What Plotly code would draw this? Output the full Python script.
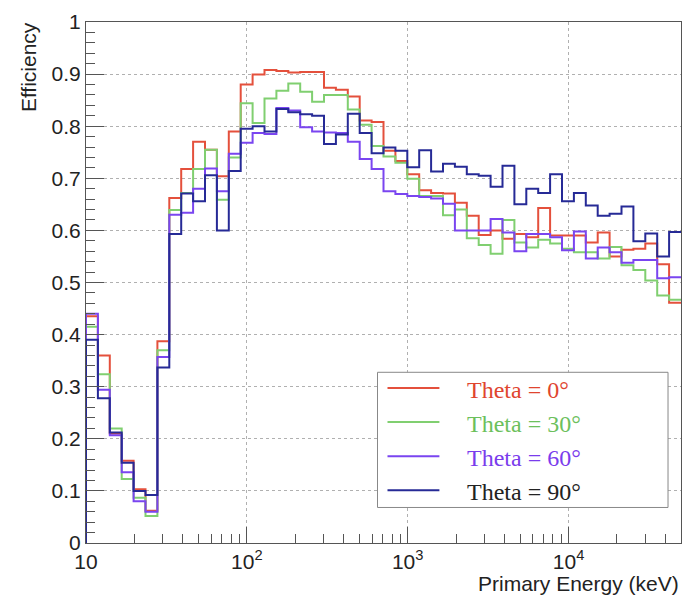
import numpy as np
import plotly.graph_objects as go

# ---------------- data ----------------
# 50 logarithmic bins between 10 keV and 50 MeV
E_MIN, E_MAX, N_BINS = 10.0, 50000.0, 50
bin_edges = list(np.logspace(np.log10(E_MIN), np.log10(E_MAX), N_BINS + 1))

eff_theta0 = [0.435, 0.36, 0.21, 0.158, 0.103, 0.062, 0.387, 0.662, 0.718, 0.77,
              0.755, 0.704, 0.79, 0.88, 0.899, 0.908, 0.906, 0.903, 0.904, 0.904,
              0.874, 0.87, 0.857, 0.811, 0.808, 0.753, 0.733, 0.708, 0.677, 0.672,
              0.671, 0.653, 0.628, 0.591, 0.60, 0.584, 0.593, 0.587, 0.643, 0.59,
              0.59, 0.59, 0.577, 0.596, 0.55, 0.563, 0.565, 0.575, 0.535, 0.461]
eff_theta30 = [0.415, 0.324, 0.22, 0.123, 0.087, 0.052, 0.37, 0.639, 0.672, 0.718,
               0.755, 0.659, 0.74, 0.844, 0.806, 0.853, 0.868, 0.882, 0.866, 0.847,
               0.86, 0.86, 0.832, 0.803, 0.762, 0.742, 0.73, 0.699, 0.666, 0.666,
               0.629, 0.64, 0.585, 0.572, 0.555, 0.62, 0.577, 0.567, 0.582, 0.575,
               0.565, 0.558, 0.558, 0.546, 0.568, 0.533, 0.524, 0.504, 0.475, 0.467]
eff_theta60 = [0.44, 0.294, 0.207, 0.136, 0.08, 0.06, 0.357, 0.63, 0.634, 0.68,
               0.719, 0.675, 0.747, 0.768, 0.787, 0.785, 0.835, 0.83, 0.798, 0.79,
               0.788, 0.787, 0.77, 0.737, 0.718, 0.675, 0.67, 0.666, 0.664, 0.661,
               0.651, 0.60, 0.60, 0.60, 0.622, 0.596, 0.56, 0.593, 0.593, 0.587,
               0.562, 0.598, 0.546, 0.567, 0.558, 0.538, 0.543, 0.543, 0.508, 0.51]
eff_theta90 = [0.39, 0.278, 0.212, 0.154, 0.10, 0.092, 0.337, 0.593, 0.671, 0.656,
               0.706, 0.60, 0.714, 0.795, 0.80, 0.79, 0.833, 0.827, 0.823, 0.82,
               0.766, 0.784, 0.824, 0.787, 0.748, 0.759, 0.753, 0.721, 0.754, 0.713,
               0.728, 0.722, 0.708, 0.705, 0.684, 0.724, 0.65, 0.68, 0.672, 0.708,
               0.656, 0.672, 0.648, 0.628, 0.632, 0.646, 0.579, 0.594, 0.55, 0.597]

series_names = ["Theta = 0°", "Theta = 30°", "Theta = 60°", "Theta = 90°"]
series_values = [eff_theta0, eff_theta30, eff_theta60, eff_theta90]
line_colors = ["#e4503c", "#80cf70", "#7a45f0", "#262a96"]
text_colors = ["#e0452f", "#6cc05c", "#7a3cec", "#222222"]

x_tick_vals = [10, 100, 1000, 10000]
x_tick_text = ["10", "10<sup>2</sup>", "10<sup>3</sup>", "10<sup>4</sup>"]
x_minor_vals = [m * 10 ** p for p in range(1, 5) for m in range(2, 10) if m * 10 ** p <= E_MAX]
y_tick_vals = [0, 0.1, 0.2, 0.3, 0.4, 0.5, 0.6, 0.7, 0.8, 0.9, 1]
y_tick_text = ["0", "0.1", "0.2", "0.3", "0.4", "0.5", "0.6", "0.7", "0.8", "0.9", "1"]

# ---------------- figure ----------------
W, H = 692, 606
ML, MR, MT, MB = 86, 10, 15, 63
PW, PH = W - ML - MR, H - MT - MB


def px_x(px):
    return (px - ML) / PW


def px_y(py):
    return (H - MB - py) / PH


fig = go.Figure()
for name, vals, col in zip(series_names, series_values, line_colors):
    xs = [bin_edges[0]] + bin_edges
    ys = [0] + vals + [vals[-1]]
    fig.add_trace(go.Scatter(x=xs, y=ys, mode="lines", line=dict(color=col, width=2, shape="hv"),
                             name=name, showlegend=False))

axis_font = dict(family="Liberation Sans, Arial, sans-serif", size=21, color="#222")
frame_col = "#555"

fig.update_xaxes(type="log", range=[np.log10(E_MIN), np.log10(E_MAX)],
                 tickvals=x_tick_vals, ticktext=x_tick_text, tickfont=axis_font,
                 ticks="inside", ticklen=16, tickwidth=1, tickcolor=frame_col,
                 minor=dict(tickvals=x_minor_vals, ticks="inside", ticklen=9, tickwidth=1,
                            tickcolor=frame_col, showgrid=False),
                 showgrid=True, gridcolor="#b0b0b0", griddash="dot", gridwidth=1,
                 showline=True, mirror=True, linecolor=frame_col, linewidth=1, zeroline=False)
fig.update_yaxes(range=[0, 1], tickvals=y_tick_vals, ticktext=y_tick_text, tickfont=axis_font,
                 ticks="inside", ticklen=18, tickwidth=1, tickcolor=frame_col,
                 minor=dict(dtick=0.02, ticks="inside", ticklen=9, tickwidth=1,
                            tickcolor=frame_col, showgrid=False),
                 showgrid=True, gridcolor="#b0b0b0", griddash="dot", gridwidth=1,
                 showline=True, mirror=True, linecolor=frame_col, linewidth=1, zeroline=False)

annotations = [
    dict(text="Efficiency", textangle=-90, xref="paper", yref="paper",
         x=px_x(28), y=px_y(13), xanchor="center", yanchor="top", showarrow=False,
         font=dict(family="Liberation Sans, Arial, sans-serif", size=21, color="#222")),
    dict(text="Primary Energy (keV)", xref="paper", yref="paper",
         x=px_x(682), y=px_y(584), xanchor="right", yanchor="middle", showarrow=False,
         font=dict(family="Liberation Sans, Arial, sans-serif", size=21, color="#222")),
]

# legend box drawn manually to match layout
shapes = [dict(type="rect", xref="paper", yref="paper",
               x0=px_x(378), x1=px_x(669), y0=px_y(507), y1=px_y(370),
               line=dict(color="#888", width=1), fillcolor="white", layer="above")]
legend_rows = [386, 420.5, 455, 489.5]
for row, name, lc, tc in zip(legend_rows, series_names, line_colors, text_colors):
    shapes.append(dict(type="line", xref="paper", yref="paper",
                       x0=px_x(388), x1=px_x(440), y0=px_y(row), y1=px_y(row),
                       line=dict(color=lc, width=2), layer="above"))
    annotations.append(dict(text=name, xref="paper", yref="paper",
                            x=px_x(466), y=px_y(row + 2), xanchor="left", yanchor="middle",
                            showarrow=False,
                            font=dict(family="Liberation Serif, Times New Roman, serif", size=24, color=tc)))

fig.update_layout(width=W, height=H, autosize=False,
                  margin=dict(l=ML, r=MR, t=MT, b=MB, pad=0),
                  paper_bgcolor="white", plot_bgcolor="white",
                  shapes=shapes, annotations=annotations, showlegend=False)

fig.write_html("out.html")
